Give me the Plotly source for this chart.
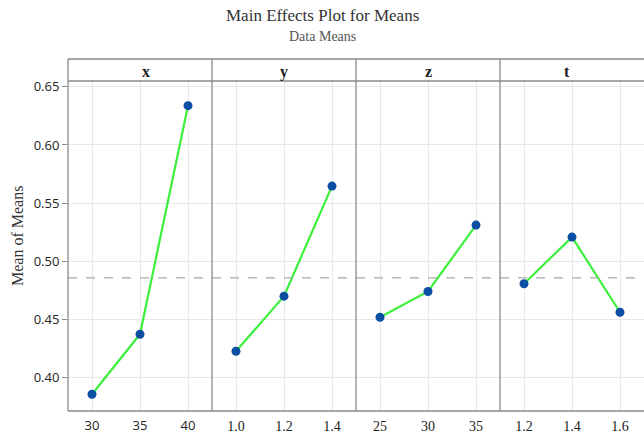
import numpy as np
import plotly.graph_objects as go
from plotly.subplots import make_subplots

# Factor levels and their mean responses
factors = ["x", "y", "z", "t"]
x_levels = ["30", "35", "40"]
x_means = [0.386, 0.4375, 0.6337]
y_levels = ["1.0", "1.2", "1.4"]
y_means = [0.4229, 0.4702, 0.5647]
z_levels = ["25", "30", "35"]
z_means = [0.4521, 0.4742, 0.5312]
t_levels = ["1.2", "1.4", "1.6"]
t_means = [0.4808, 0.5209, 0.4564]

y_ticks = [0.40, 0.45, 0.50, 0.55, 0.60, 0.65]

levels = [x_levels, y_levels, z_levels, t_levels]
means = [x_means, y_means, z_means, t_means]
grand_mean = float(np.mean(np.concatenate(means)))

W, H = 644, 440
ml, mr, mt, mb = 68, 0, 81, 29
plot_h = H - mt - mb
plot_w = W - ml - mr
strip_top = 1 + 22 / plot_h


def px_to_paper_y(py):
    return 1 + (mt - py) / plot_h


def px_to_paper_x(px):
    return (px - ml) / plot_w


fig = make_subplots(rows=1, cols=4, shared_yaxes=True, horizontal_spacing=0)

frame = "#8a8a8a"
grid = "#e8e8e8"
serif = "Liberation Serif"
sans = "Open Sans"

for i, (lv, mv) in enumerate(zip(levels, means)):
    fig.add_trace(
        go.Scatter(
            x=list(range(len(lv))), y=mv, mode="lines+markers",
            line=dict(color="#3cf03c", width=2.2),
            marker=dict(color="#0a4fa3", size=9),
            showlegend=False, hoverinfo="skip",
        ),
        row=1, col=i + 1,
    )
    fig.update_xaxes(
        range=[-0.5, len(lv) - 0.5], tickvals=list(range(len(lv))), ticktext=lv,
        showgrid=True, gridcolor=grid, gridwidth=1, zeroline=False,
        showline=False, ticks="", ticklabelstandoff=5,
        tickfont=dict(family=sans if i == 0 else serif, size=13 if i == 0 else 14, color="#222"),
        row=1, col=i + 1,
    )

fig.update_yaxes(
    range=[0.3716, 0.6549], tickvals=y_ticks, tickformat=".2f",
    showgrid=True, gridcolor=grid, gridwidth=1, zeroline=False,
)
fig.update_yaxes(
    ticks="outside", ticklen=5, tickcolor=frame,
    tickfont=dict(family=sans, size=13, color="#222"),
    row=1, col=1,
)

shapes = []
# grand mean reference line
shapes.append(dict(type="line", xref="paper", yref="y", x0=0, x1=1, y0=grand_mean, y1=grand_mean,
                   line=dict(color="#a8a8a8", width=1.3, dash="dash")))
# panel frame and strips
line = dict(color=frame, width=1.3)
shapes.append(dict(type="line", xref="paper", yref="paper", x0=0, x1=1, y0=0, y1=0, line=line))
shapes.append(dict(type="line", xref="paper", yref="paper", x0=0, x1=1, y0=1, y1=1, line=line))
shapes.append(dict(type="line", xref="paper", yref="paper", x0=0, x1=1, y0=strip_top, y1=strip_top, line=line))
for xb in [0, 0.25, 0.5, 0.75]:
    shapes.append(dict(type="line", xref="paper", yref="paper", x0=xb, x1=xb, y0=0, y1=strip_top, line=line))

annotations = []
for i, f in enumerate(factors):
    annotations.append(dict(
        text=f"<b>{f}</b>", xref="paper", yref="paper", x=0.125 + 0.25 * i, y=px_to_paper_y(72),
        showarrow=False, yanchor="middle", font=dict(family=serif, size=16, color="#222"),
    ))
annotations.append(dict(
    text="Main Effects Plot for Means", xref="paper", yref="paper",
    x=px_to_paper_x(W / 2), y=px_to_paper_y(15), showarrow=False, yanchor="middle",
    font=dict(family=serif, size=17, color="#333"),
))
annotations.append(dict(
    text="Data Means", xref="paper", yref="paper",
    x=px_to_paper_x(W / 2), y=px_to_paper_y(36), showarrow=False, yanchor="middle",
    font=dict(family=serif, size=14, color="#555"),
))
annotations.append(dict(
    text="Mean of Means", xref="paper", yref="paper", textangle=-90,
    x=px_to_paper_x(17), y=px_to_paper_y(236), showarrow=False,
    xanchor="center", yanchor="middle",
    font=dict(family=serif, size=16, color="#333"),
))

fig.update_layout(
    width=W, height=H, margin=dict(l=ml, r=mr, t=mt, b=mb),
    paper_bgcolor="white", plot_bgcolor="white",
    shapes=shapes, annotations=annotations,
)

fig.write_html("out.html")
